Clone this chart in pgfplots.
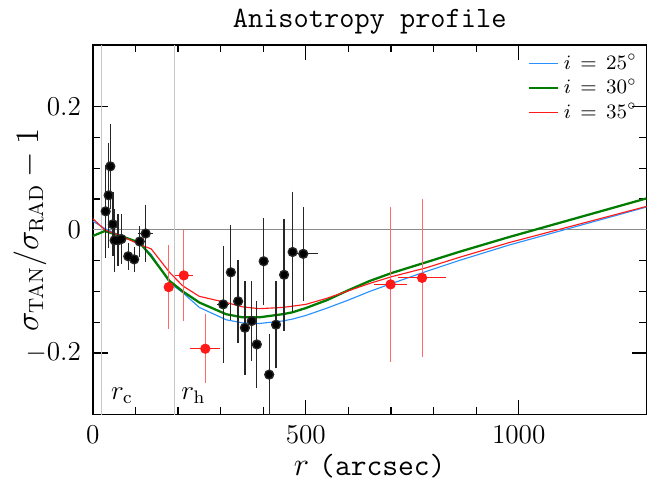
\documentclass[border=0pt]{standalone}
\usepackage{pgfplots}
\usepackage{pgfplotstable}
\pgfplotsset{compat=1.18}
\definecolor{cblue}{RGB}{40,145,255}
\definecolor{cgreen}{RGB}{0,125,0}
\definecolor{cred}{RGB}{255,25,25}
\definecolor{cpink}{RGB}{255,105,105}

\pgfplotstableread{
r v ex ey
30 0.030 0 0.070
37 0.056 0 0.079
41 0.103 0 0.063
47 0.009 0 0.046
51 -0.017 0 0.045
59 -0.017 0 0.036
67 -0.015 0 0.035
83 -0.043 0 0.016
97 -0.048 0 0.015
110 -0.019 0 0.019
124 -0.006 18 0.041
306 -0.121 14 0.089
324 -0.069 0 0.071
341 -0.116 0 0.061
357 -0.159 0 0.070
373 -0.148 0 0.059
385 -0.186 0 0.065
401 -0.051 0 0.065
414 -0.235 0 0.060
430 -0.154 0 0.065
449 -0.073 0 0.085
469 -0.036 0 0.092
494 -0.039 35 0.070
}\blackdata

\pgfplotstableread{
r v ex ey
178 -0.093 0 0.062
213.5 -0.074 21 0.068
264 -0.193 35 0.050
699 -0.0886 39 0.120
773 -0.078 56 0.122
}\reddata

\begin{document}
\begin{tikzpicture}
\begin{axis}[
  scale only axis, width=243.8pt, height=162.8pt,
  xmin=0, xmax=1300, ymin=-0.3, ymax=0.3,
  xtick={0,500,1000}, minor x tick num=4,
  ytick={-0.2,0,0.2}, minor y tick num=3,
  /pgf/number format/1000 sep={},
  tick align=inside, major tick length=6.6pt, minor tick length=3.3pt,
  every tick/.style={black, line width=0.5pt},
  axis line style={line width=0.6pt},
  tick label style={font=\fontsize{12}{14}\selectfont},
  xticklabel style={anchor=base, yshift=-12.9pt},
  yticklabel style={xshift=-1.7pt},
  every axis title shift=0pt,
  title={\fontsize{13}{15}\selectfont\ttfamily Anisotropy profile},
  title style={at={(axis description cs:0.5,1.0485)}, anchor=base, inner sep=0pt},
  xlabel={\fontsize{13.5}{15}\selectfont $r$~\ttfamily(arcsec)},
  xlabel style={at={(axis description cs:0.5,-0.1536)}, anchor=base, yshift=-2pt, inner sep=0pt},
  ylabel={\fontsize{13.5}{15}\selectfont$\sigma_{\mathrm{TAN}}/\sigma_{\mathrm{RAD}}-1$},
  ylabel style={at={(axis description cs:-0.1136,0.5)}, anchor=center, inner sep=0pt},
  legend style={draw=none, fill=none, at={(axis description cs:1,1)}, anchor=north east,
    font=\fontsize{9}{10}\selectfont, row sep=-1.5pt, inner sep=2pt},
  legend cell align=left,
  legend image code/.code={\draw[#1] (-2pt,0pt) -- (11pt,0pt);},
]
% reference lines
\addplot[gray!90, line width=0.4pt, forget plot] coordinates {(0,0) (1300,0)};
\addplot[gray!45, line width=0.5pt, forget plot] coordinates {(21,-0.3) (21,0.3)};
\addplot[gray!45, line width=0.5pt, forget plot] coordinates {(192,-0.3) (192,0.3)};

% model curves
\addplot[cblue, line width=0.5pt] coordinates {
(0,0.014) (28,0.002) (70,-0.011) (110,-0.022) (137,-0.040) (180,-0.086) (211,-0.102)
(250,-0.126) (313,-0.146) (351,-0.151) (391,-0.152) (445,-0.148) (468,-0.145)
(500,-0.139) (550,-0.127) (600,-0.114) (650,-0.100) (702,-0.087) (781,-0.068)
(859,-0.050) (976,-0.025) (1300,0.037)};
\addlegendentry{$i\,=\,25^\circ$}
\addplot[cgreen, line width=1pt] coordinates {
(0,-0.010) (28,-0.002) (70,-0.011) (110,-0.021) (137,-0.043) (180,-0.083) (211,-0.100)
(250,-0.118) (313,-0.137) (351,-0.142) (391,-0.142) (445,-0.137) (468,-0.134)
(500,-0.127) (550,-0.114) (600,-0.098) (650,-0.083) (702,-0.070) (781,-0.053)
(859,-0.036) (976,-0.012) (1300,0.051)};
\addlegendentry{$i\,=\,30^\circ$}
\addplot[cred, line width=0.5pt] coordinates {
(0,0.018) (28,0.000) (70,-0.011) (110,-0.024) (137,-0.031) (180,-0.069) (211,-0.091)
(250,-0.108) (313,-0.118) (351,-0.125) (391,-0.128) (445,-0.126) (468,-0.124)
(500,-0.121) (550,-0.111) (600,-0.099) (650,-0.087) (702,-0.076) (781,-0.062)
(859,-0.045) (976,-0.021) (1300,0.038)};
\addlegendentry{$i\,=\,35^\circ$}

% data: horizontal errors (no caps)
\addplot[black!85, line width=0.5pt, only marks, mark=none, forget plot,
  error bars/.cd, x dir=both, x explicit, error mark=none]
  table[x=r, y=v, x error=ex] {\blackdata};
\addplot[cred, line width=0.5pt, only marks, mark=none, forget plot,
  error bars/.cd, x dir=both, x explicit, error mark=none]
  table[x=r, y=v, x error=ex] {\reddata};
% data: vertical errors with caps and points
\addplot[black, only marks, mark=*, mark size=1.35pt, forget plot,
  error bars/.cd, y dir=both, y explicit, error mark=-,
  error bar style={black!85, line width=0.55pt},
  error mark options={black!85, mark size=1.6pt, line width=0.55pt}]
  table[x=r, y=v, y error=ey] {\blackdata};
\addplot[cred, only marks, mark=*, mark size=1.35pt, forget plot,
  error bars/.cd, y dir=both, y explicit, error mark=-,
  error bar style={cpink, line width=0.5pt},
  error mark options={cpink, mark size=1.6pt, line width=0.5pt}]
  table[x=r, y=v, y error=ey] {\reddata};

\node[anchor=base west, font=\fontsize{12}{14}\selectfont, inner sep=0pt] at (axis cs:42,-0.275) {$r_{\mathrm{c}}$};
\node[anchor=base west, font=\fontsize{12}{14}\selectfont, inner sep=0pt] at (axis cs:207,-0.275) {$r_{\mathrm{h}}$};
\end{axis}
\pgfresetboundingbox
\path ([xshift=-40.9pt,yshift=-30.4pt]current axis.south west) rectangle ([xshift=0.2pt,yshift=19.8pt]current axis.north east);
\end{tikzpicture}
\end{document}
